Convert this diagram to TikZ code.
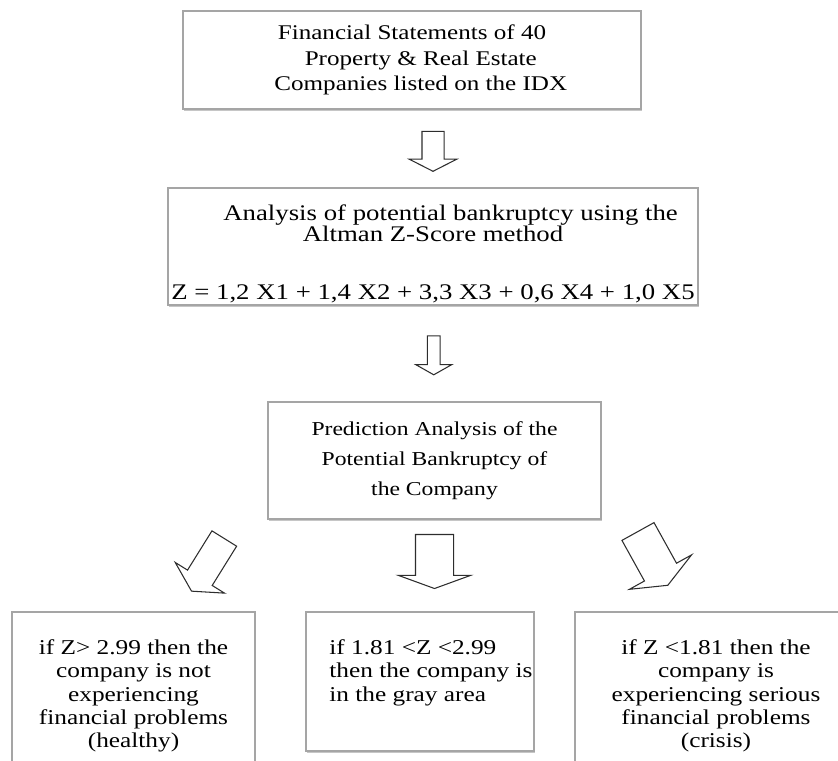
\documentclass[tikz,border=0pt]{standalone}
\usepackage{fontspec}
\setmainfont[FakeStretch=1.2]{Liberation Serif}
\usepackage{tikz}
\usetikzlibrary{shapes.arrows,shadows,calc}
\definecolor{boxline}{RGB}{165,165,165}
\definecolor{flowline}{RGB}{45,45,45}

\begin{document}
\begin{tikzpicture}[
  box/.style={draw=boxline,line width=0.7pt,fill=white,inner sep=0pt,outer sep=0pt,align=center,
              drop shadow={shadow xshift=0.6pt,shadow yshift=-1.1pt,opacity=0.45}},
  flow/.style={single arrow,draw=flowline,line width=0.6pt,fill=white,inner xsep=0pt,outer sep=0pt},
  title/.style={font=\fontsize{11.9}{14.7}\selectfont},
  method/.style={font=\fontsize{12.7}{11.9}\selectfont},
  predict/.style={font=\fontsize{11.2}{17}\selectfont},
  result/.style={font=\fontsize{12}{13.2}\selectfont}
]
\useasboundingbox (0,0) rectangle (16.76,-15.22);
\node[box,title,minimum width=9.16cm,minimum height=1.96cm] (fs) at (8.24,-1.20)
  {Financial Statements of 40\\ \hspace*{10pt}Property \& Real Estate\\ \hspace*{10pt}Companies listed on the IDX};
\node[box,method,minimum width=10.60cm,minimum height=2.34cm] (zs) at (8.66,-4.93)
  {\rule{0pt}{17pt}\hspace*{20pt}Analysis of potential bankruptcy using the\\ Altman Z-Score method\\[21pt]
   Z = 1,2 X1 + 1,4 X2 + 3,3 X3 + 0,6 X4 + 1,0 X5};
\node[box,predict,minimum width=6.66cm,minimum height=2.34cm] (pa) at (8.69,-9.21)
  {Prediction Analysis of the\\ Potential Bankruptcy of\\ the Company};
\node[box,result,minimum width=4.86cm,minimum height=3.36cm] (hl) at (2.67,-13.92)
  {if Z> 2.99 then the\\ company is not\\ experiencing\\ financial problems\\ (healthy)};
\node[box,minimum width=4.56cm,minimum height=2.78cm] (gy) at (8.40,-13.63) {};
\node[result,align=left,inner sep=0pt,anchor=north west] (gyt) at ($(gy.north west)+(0.46,-0.55)$)
  {if 1.81 <Z <2.99\\ then the company is\\ in the gray area};
\node[box,result,minimum width=5.64cm,minimum height=3.36cm] (cr) at (14.32,-13.92)
  {if Z <1.81 then the\\ company is\\ experiencing serious\\ financial problems\\ (crisis)};
\node[flow,rotate=-90,minimum height=0.8cm,inner ysep=0.21cm,
      single arrow head extend=0.26cm,single arrow tip angle=126] (a1)
  at ($(fs.south -| zs.north)!0.5!(zs.north)$) {};
\node[flow,rotate=-90,minimum height=0.78cm,inner ysep=0.117cm,
      single arrow head extend=0.234cm,single arrow tip angle=121] (a2)
  at ($(zs.south)!0.5!(pa.north)$) {};
\node[flow,rotate=-90,minimum height=1.08cm,inner ysep=0.37cm,
      single arrow head extend=0.34cm,single arrow tip angle=140] (a4)
  at ($(pa.south)!0.42!(gy.north -| pa.south)$) {};
\node[flow,rotate=238.1,minimum height=1.24cm,inner ysep=0.28cm,
      single arrow head extend=0.29cm,single arrow tip angle=123] (a3) at (4.20,-11.23) {};
\node[flow,rotate=-61,minimum height=1.23cm,inner ysep=0.356cm,
      single arrow head extend=0.344cm,single arrow tip angle=134] (a5) at (13.02,-11.10) {};
\end{tikzpicture}
\end{document}
